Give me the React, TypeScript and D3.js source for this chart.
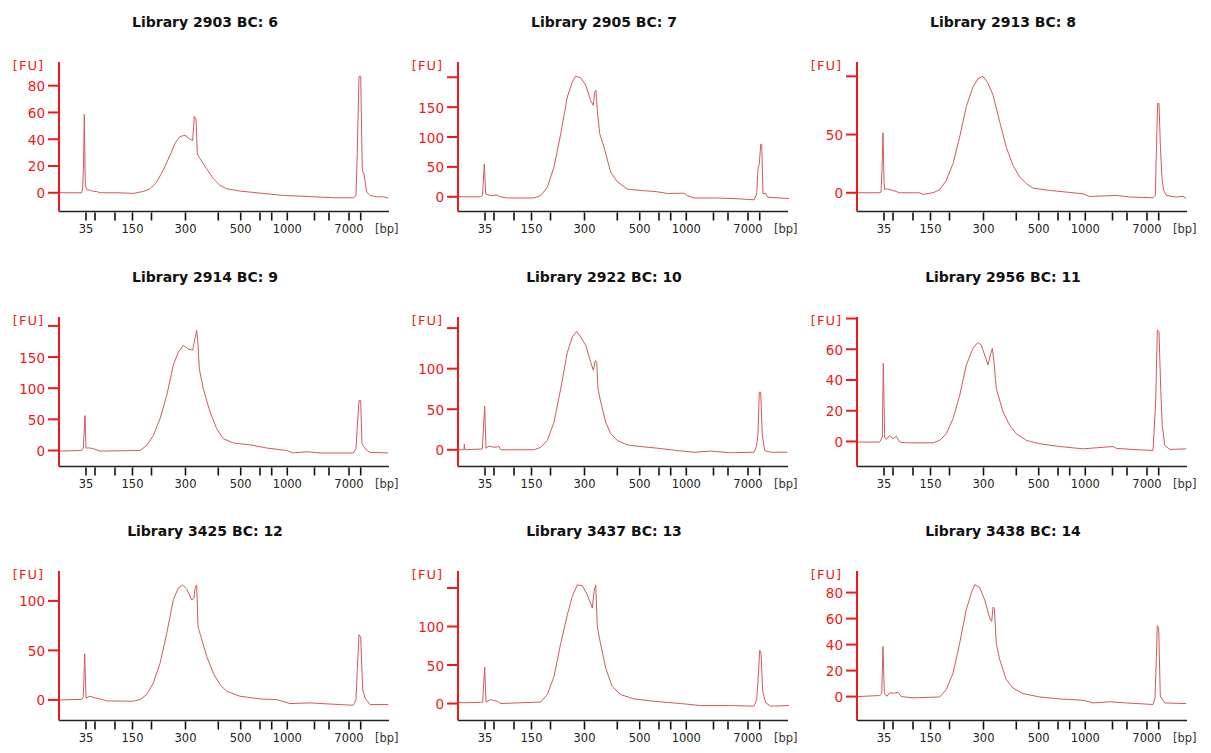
import React from "react";
import * as d3 from "d3";

// ---------- data ----------
// ladder fragment sizes (bp) and their migration positions (a.u.)
const ladderBp = [35, 50, 100, 150, 200, 300, 400, 500, 600, 700, 1000, 2000, 3000, 7000, 10380];
const ladderPos = [27, 36, 56, 73.5, 92.5, 126.5, 159.3, 181.7, 201, 212.7, 228.3, 255.5, 270, 290, 301.7];
const labeledBp = [35, 150, 300, 500, 1000, 7000];
const xDomain: [number, number] = [0, 330];

const titles = [
  "Library 2903 BC: 6",
  "Library 2905 BC: 7",
  "Library 2913 BC: 8",
  "Library 2914 BC: 9",
  "Library 2922 BC: 10",
  "Library 2956 BC: 11",
  "Library 3425 BC: 12",
  "Library 3437 BC: 13",
  "Library 3438 BC: 14",
];

const yDomains: [number, number][] = [
  [-14, 97.7],
  [-24.6, 225.5],
  [-16.1, 112.3],
  [-25.7, 214.3],
  [-20.6, 163.7],
  [-16.3, 81],
  [-20.8, 130.2],
  [-22, 172],
  [-18.4, 96.6],
];

const yTicks = [
  [0, 20, 40, 60, 80],
  [0, 50, 100, 150, 200],
  [0, 50, 100],
  [0, 50, 100, 150, 200],
  [0, 50, 100, 150],
  [0, 20, 40, 60, 80],
  [0, 50, 100],
  [0, 50, 100, 150],
  [0, 20, 40, 60, 80],
];

const t2903 = [[0,0],[22.7,0],[23.7,4],[24.5,20],[25.3,58.5],[26,20],[26.3,5],[28.3,2],[31,2],[34.3,1],[37.7,1],[41,0],[60,0],[74.3,-0.5],[84.3,1],[91,3],[97.7,8],[104.3,17],[111,28],[116,37],[121,42],[126,43],[131,40],[133.7,39],[134.7,50],[135.3,57],[137,55],[138.3,29],[141,25.5],[147.7,18],[154.3,10.5],[161,5.5],[167.7,3],[181,1.25],[201,-0.25],[224.3,-2],[241,-2.5],[261,-3.25],[274.3,-3.75],[294.3,-3.75],[297,-2],[298.3,32],[300,87],[301.7,87],[303.3,17],[305,14],[307.7,0.5],[311,-2],[317.7,-3],[324.3,-3],[329.3,-4]];
const t2905 = [[0,0],[22.7,0],[24.5,2],[26.3,55],[27.7,5],[32.7,2],[39.3,3],[42.7,0],[49.3,-2],[76,-2],[82.7,2],[89.3,16],[96,50],[102.7,105],[109.3,167],[114.3,192],[117.7,202],[122.7,199],[127.7,187],[132.7,161],[135.3,153],[136.7,175],[138,178],[139.3,145],[141.7,106],[146,83],[152.7,41],[159.3,25],[169.3,13],[182.7,10.6],[199.3,8.4],[209.3,5.6],[226,6],[229.3,2],[236,-2],[259.3,-2],[276,-3],[296,-5],[298.7,5],[300,47],[301.3,55],[302.7,88],[303.7,88],[305,5],[307.7,6],[309.3,-0.5],[331,-3]];
const t2913 = [[0,0],[22,0],[24,0.5],[25,20],[26,51.4],[27,10],[27.7,2.6],[29.3,3.4],[36,2],[42.7,0],[62.7,0],[66,-1.4],[76,0],[82.7,2.6],[89.3,10.6],[96,25],[102.7,48],[109.3,74],[116,91],[121,98],[126,100],[131,94],[136,84],[142.7,61],[149.3,39],[156,23.5],[162.7,13.5],[169.3,7.8],[176,4],[192.7,2],[209.3,0.6],[226,-0.9],[232.7,-3.2],[259.3,-2.3],[272.7,-3.7],[296,-4.3],[298.3,-2.3],[299.3,33.6],[300.7,76.7],[302,76.7],[303.3,42],[305,12],[306.7,2],[309.3,-2.3],[319.3,-3.7],[326,-3],[329.3,-5]];
const t2914 = [[0,-1],[22.7,0],[24.3,4],[26,56],[27,4],[31,4],[34.3,3],[41,-1],[81,0],[87.7,8],[94.3,24],[101,51],[107.7,88],[114.3,137],[119.3,158],[124.3,169],[129.3,163],[133.7,161],[136,180],[137.7,193],[139,171],[140.3,131],[144.3,99],[151,62],[157.7,35],[164.3,19],[174.3,12],[191,9],[207.7,4],[227.7,0],[234.3,-4],[247.7,-2],[261,-4],[294.3,-4],[297,3],[298.3,40],[300,80],[301.7,80],[303,11],[306,3],[311,-3],[329.3,-4]];
const t2922 = [[0,0],[6,0],[6.3,7],[7,0],[24.3,1],[26.7,54],[28,2],[31,4.5],[36,3],[41,4],[42.7,0],[76,0],[82.7,3],[89.3,11.5],[96,34],[102.7,75],[109.3,120],[114.3,139],[118.7,146],[122.7,139],[127.7,129],[132.7,108],[135.3,98],[137.3,110],[138.7,108],[140,75],[142.7,59],[147.7,34],[152.7,20],[159.3,11.5],[169.3,6],[182.7,4],[199.3,2],[219.3,-1],[236,-3],[252.7,-1.6],[272.7,-3.7],[296,-3],[298.7,5],[300,20],[301.3,71],[302.7,71],[304.3,18],[306.7,-1],[312.7,-3],[329.3,-3]];
const t2956 = [[0,-0.4],[22.7,-0.4],[25.3,2.8],[26.3,50.8],[27.7,2.8],[29.3,1.3],[32.7,3.9],[36,1.7],[39.3,3.5],[42.7,-0.4],[49.3,-0.9],[76,-0.9],[82.7,0.7],[89.3,5],[96,14.8],[102.7,30],[109.3,49.7],[116,60.6],[121,64.5],[124.3,62.7],[127.7,56.2],[131,49.7],[133.3,56.2],[135.3,60.6],[137,51.9],[139.3,34.4],[146,19.2],[152.7,10.5],[159.3,5],[169.3,0.7],[182.7,-1.5],[202.7,-3.3],[226,-4.8],[256,-3.3],[259.3,-4.5],[276,-5.2],[296,-5.9],[298.7,25.7],[300.3,72.5],[302,71.5],[303.7,34.4],[305.3,10.5],[307.7,-2.6],[312.7,-5.2],[329.3,-4.8]];
const t3425 = [[0,0],[22.7,0.5],[24.3,3],[25.7,46.6],[27,2],[31,3.7],[36,2],[41,1],[47.7,-1],[74.3,-1.3],[81,0.3],[87.7,5.4],[94.3,17],[101,37],[107.7,67],[114.3,101],[119.3,113],[123.7,116],[127.7,112],[132.7,101],[135,103],[136.3,114],[137.7,116],[139,74],[141,67],[147.7,44],[154.3,27],[161,15.4],[167.7,8.7],[181,3.7],[201,1],[217.7,0.3],[231,-3.7],[251,-3],[267.7,-4],[294.3,-5.4],[297,0],[298.3,30.5],[300,65.8],[301.7,63.4],[303.7,10.4],[306,2],[311,-4.7],[329.3,-4.7]];
const t3437 = [[0,2],[5,1],[22.7,1.5],[24.7,2],[26.7,47.4],[28,2],[32.7,5],[39.3,3],[42.7,0],[82.7,2],[89.3,11.6],[96,35],[102.7,78],[109.3,115],[114.3,139],[119.3,154],[124.3,153],[129.3,141],[134.3,124],[136,145],[137.7,154],[139.3,100],[142,81],[147.7,46],[154.3,22],[162.7,11.6],[176,6],[196,3],[222.7,0],[242.7,-2.6],[272.7,-2.6],[296,-3.4],[298.7,5],[300,29],[301.7,69],[303,65.5],[304.7,16],[307.7,1],[312.7,-3.4],[331,-2.6]];
const t3438 = [[0,0],[22.7,0.8],[24.7,2.3],[26,38.6],[27.3,2.8],[30,0.3],[32.7,2.8],[37.7,2.8],[41,3.3],[44.3,0],[56,-1],[82.7,-0.3],[89.3,5.4],[96,18],[102.7,41],[109.3,67],[114.3,79.5],[117.7,86],[122.7,84],[127.7,74.4],[132.7,60.4],[134.7,57.8],[136,68.8],[137.3,68],[139.3,41],[142.7,28.4],[149.3,13],[156,6.6],[166,2.3],[182.7,-0.3],[202.7,-1.8],[226,-2.8],[236,-4.9],[252.7,-4],[269.3,-4.9],[296,-6.1],[298,-1],[299.3,28.4],[300.3,54.5],[301.7,52.7],[303.3,0.3],[307.7,-4.9],[329.3,-5.4]];

const traces = [t2903, t2905, t2913, t2914, t2922, t2956, t3425, t3437, t3438];

// ---------- layout ----------
const W = 1211;
const H = 753;
const colX = [59, 458, 857];
const rowTop = [62, 317, 571];
const plotW = 330;
const plotH = 149.5;

const RED = "#f01818";
const TRACE = "#d35a5a";
const FONT = "'DejaVu Sans', Verdana, sans-serif";

function Panel({ i }: { i: number }) {
  const ox = colX[i % 3];
  const oy = rowTop[Math.floor(i / 3)];
  const x = d3.scaleLinear().domain(xDomain).range([0, plotW]);
  const y = d3.scaleLinear().domain(yDomains[i]).range([plotH, 0]);
  const line = d3
    .line<number[]>()
    .x((d) => x(d[0]))
    .y((d) => y(d[1]));
  const path = line(traces[i] as number[][]) || "";
  return (
    <g transform={`translate(${ox},${oy})`}>
      <text
        x={146}
        y={-35}
        textAnchor="middle"
        fontFamily={FONT}
        fontWeight="bold"
        fontSize={14}
        fill="#111"
      >
        {titles[i]}
      </text>
      <path d={path} fill="none" stroke={TRACE} strokeWidth={1} strokeLinejoin="round" />
      {/* x axis */}
      <line x1={0} x2={plotW} y1={plotH} y2={plotH} stroke="#222" strokeWidth={1.5} />
      {ladderBp.map((bp, k) => (
        <line
          key={bp}
          x1={x(ladderPos[k])}
          x2={x(ladderPos[k])}
          y1={plotH + 1}
          y2={plotH + 9}
          stroke="#111"
          strokeWidth={1.6}
        />
      ))}
      {ladderBp.map((bp, k) =>
        labeledBp.includes(bp) ? (
          <text
            key={"l" + bp}
            x={x(ladderPos[k])}
            y={plotH + 21.5}
            textAnchor="middle"
            fontFamily={FONT}
            fontSize={11.5}
            fill="#222"
          >
            {bp}
          </text>
        ) : null
      )}
      <text x={316} y={plotH + 21.5} fontFamily={FONT} fontSize={11.5} fill="#333">
        [bp]
      </text>
      {/* y axis */}
      <line x1={0} x2={0} y1={0} y2={plotH} stroke={RED} strokeWidth={2} />
      {yTicks[i].map((v) => (
        <g key={v}>
          <line x1={-11} x2={0} y1={y(v)} y2={y(v)} stroke={RED} strokeWidth={2} />
          {y(v) > 20 ? (
            <text
              x={-14}
              y={y(v) + 5.5}
              textAnchor="end"
              fontFamily={FONT}
              fontSize={13.5}
              fill={RED}
            >
              {v}
            </text>
          ) : null}
        </g>
      ))}
      <text
        x={-15}
        y={8}
        textAnchor="end"
        fontFamily={FONT}
        fontSize={13}
        letterSpacing={1}
        fill={RED}
      >
        [FU]
      </text>
    </g>
  );
}

export default function App() {
  return (
    <svg
      width={W}
      height={H}
      style={{ display: "block", position: "absolute", left: 0, top: 0, background: "#fff" }}
    >
      {titles.map((_, i) => (
        <Panel key={i} i={i} />
      ))}
    </svg>
  );
}
